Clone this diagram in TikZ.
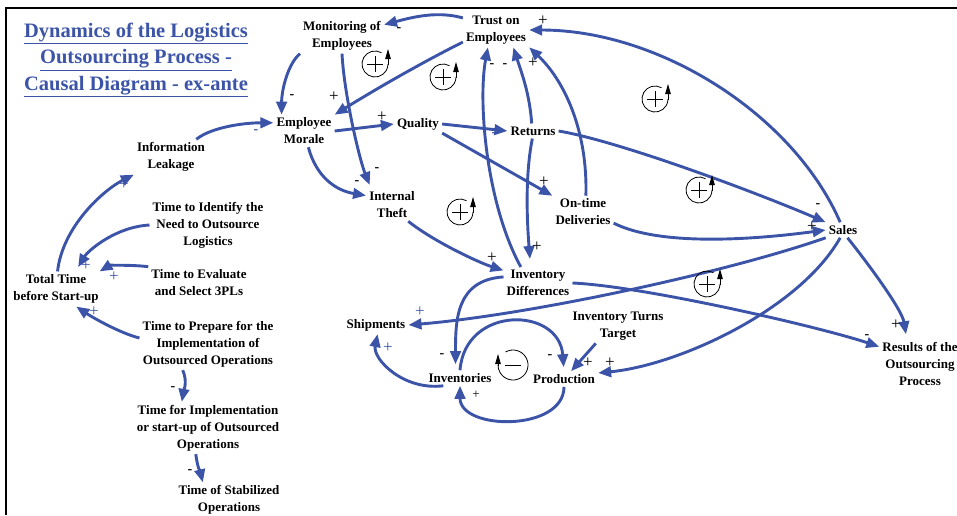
\documentclass[tikz,border=0pt]{standalone}
\usepackage{fontspec}
\setmainfont{Liberation Serif}
\usetikzlibrary{arrows.meta}
\definecolor{cldblue}{RGB}{60,84,168}
\tikzset{
  % node styles (variables, title)
  var/.style={font=\fontsize{13}{17}\selectfont\bfseries,align=center,inner sep=3pt},
  title/.style={font=\fontsize{20.5}{26.5}\selectfont\bfseries,text=cldblue,align=center,inner sep=0pt},
  % causal links
  % gebruik: \draw[link] (a.anchor) .. controls +(..) and +(..) .. (b.anchor);
  link/.style={draw=cldblue,line width=2.9pt,-{Triangle[length=13pt,width=10.5pt]}},
  % polarity signs
  plussign/.style={font=\fontsize{17}{17}\selectfont,inner sep=0pt},
  minsign/.style={font=\fontsize{14}{14}\selectfont\bfseries,inner sep=0pt},
  bplus/.style={plussign,text=cldblue},
  bmin/.style={minsign,text=cldblue},
  % loop markers (reinforcing / balancing)
  rloop/.pic={
    \draw[line width=0.8pt] (-8,0) -- (8,0) (0,-8) -- (0,8);
    \draw[line width=0.8pt] (-60:13) arc (-60:-360:13);
    \draw[line width=0.8pt,-{Triangle[length=10pt,width=5.5pt]}] (13,1) -- (13,-15);
  },
  bloop/.pic={
    \draw[line width=0.8pt] (-8,0) -- (8,0);
    \draw[line width=0.8pt] (-120:15) arc (-120:180:15);
    \draw[line width=0.8pt,-{Triangle[length=10pt,width=5.5pt]}] (-15,1) -- (-15,-11);
  },
}

\begin{document}
\begin{tikzpicture}[x=1pt,y=-1pt]
  \useasboundingbox (0,0) rectangle (957,515);
  \draw[line width=1.8pt] (6,515) -- (6,8) -- (957,8);

  \node[title] (ttl) at (136,60) {\underline{Dynamics of the Logistics}\\\underline{Outsourcing Process -}\\\underline{Causal Diagram - ex-ante}};

  % variables
  \node[var] (mon) at (342,36) {Monitoring of\\Employees};
  \node[var] (tt) at (496,30) {Trust on\\Employees};
  \node[var] (morale) at (304,131) {Employee\\Morale};
  \node[var] (quality) at (418,124) {Quality};
  \node[var] (returns) at (533,131) {Returns};
  \node[var] (leak) at (171,157) {Information\\Leakage};
  \node[var] (theft) at (392,205) {Internal\\Theft};
  \node[var] (ontime) at (583,212) {On-time\\Deliveries};
  \node[var] (sales) at (843,230) {Sales};
  \node[var] (invdiff) at (538,283) {Inventory\\Differences};
  \node[var] (ship) at (376,325) {Shipments};
  \node[var] (turns) at (618,326) {Inventory Turns\\Target};
  \node[var] (inv) at (460,378) {Inventories};
  \node[var] (prod) at (564,379) {Production};
  \node[var] (results) at (920,364) {Results of the\\Outsourcing\\Process};
  \node[var] (tid) at (208,225) {Time to Identify the\\Need to Outsource\\Logistics};
  \node[var] (total) at (56,289) {Total Time\\before Start-up};
  \node[var] (teval) at (199,283) {Time to Evaluate\\and Select 3PLs};
  \node[var] (tprep) at (208,344) {Time to Prepare for the\\Implementation of\\Outsourced Operations};
  \node[var] (timpl) at (208,428) {Time for Implementation\\or start-up of Outsourced\\Operations};
  \node[var] (tstab) at (229,500) {Time of Stabilized\\Operations};

  % links
  \draw[link] (tt.160) .. controls +(-25,-7) and +(30,-8) .. (mon.15);
  \draw[link] (mon.south west) .. controls +(-12,10) and +(0,-25) .. (morale.144);
  \draw[link,shorten >=4pt] (mon.south) .. controls +(2,40) and +(-12,-30) .. (theft.142);
  \draw[link] (tt.200) .. controls +(-40,20) and +(40,-25) .. (morale.north east);
  \draw[link] (morale.east) -- (quality.west);
  \draw[link] (morale.-75) .. controls +(8,30) and +(-30,-5) .. (theft.160);
  \draw[link] (quality.east) -- (returns.west);
  \draw[link] (quality.south east) -- (ontime.north west);
  \draw[link] (returns.east) .. controls +(60,10) and +(-70,-30) .. (sales.north west);
  \draw[link] (ontime.-20) .. controls +(50,25) and +(-60,8) .. (sales.west);
  \draw[link] (sales.110) .. controls +(-47,-108) and +(130,0) .. (tt.east);
  \draw[link] (ontime.80) .. controls +(2,-65) and +(35,33) .. (tt.south east);
  \draw[link] (returns.100) .. controls +(-2,-30) and +(8,25) .. (tt.-45);
  \draw[link,shorten >=8pt] (returns.-95) .. controls +(-8,40) and +(-3,-40) .. (invdiff.115);
  \draw[link] (invdiff.137) .. controls +(-35,-64) and +(-10,53) .. (tt.-115);
  \draw[link] (theft.-45) .. controls +(25,20) and +(-25,-8) .. (invdiff.160);
  \draw[link,shorten >=6pt] (invdiff.170) .. controls +(-48,3) and +(0,-49) .. (inv.120);
  \draw[link] (invdiff.east) .. controls +(70,3) and +(-60,-20) .. (results.157);
  \draw[link] (sales.south west) .. controls +(-100,35) and +(120,-10) .. (ship.east);
  \draw[link] (sales.-110) .. controls +(-40,71) and +(82,-8) .. (prod.10);
  \draw[link,shorten >=5pt] (sales.-60) .. controls +(20,25) and +(-5,-30) .. (results.118);
  \draw[link] (turns.-142) -- (prod.48);
  \draw[link,shorten >=4pt] (inv.north) .. controls +(5,-65) and +(-5,-65) .. (prod.north);
  \draw[link] (prod.south) .. controls +(0,45) and +(0,45) .. (inv.south);
  \draw[link] (inv.-155) .. controls +(-40,5) and +(-5,25) .. (ship.-80);
  \draw[link] (leak.35) .. controls +(15,-12) and +(-30,0) .. (morale.165);
  \draw[link] (total.85) .. controls +(5,-45) and +(-30,15) .. (leak.south west);
  \draw[link,shorten >=5pt] (tid.west) .. controls +(-35,2) and +(12,-20) .. (total.42);
  \draw[link] (teval.north west) .. controls +(-15,-2) and +(10,-6) .. (total.22);
  \draw[link] (tprep.175) .. controls +(-20,-5) and +(15,10) .. (total.-41);
  \draw[link] (tprep.-134) .. controls +(5,12) and +(2,-12) .. (timpl.135);
  \draw[link] (timpl.-115) .. controls +(2,15) and +(-3,-12) .. (tstab.146);

  % polarity signs
  \node[minsign] (s1) at (399,30) {-};
  \node[minsign] (s2) at (292,97) {-};
  \node[plussign] (s3) at (334,97) {+};
  \node[plussign] (s4) at (382,117) {+};
  \node[minsign] (s5) at (377,170) {-};
  \node[minsign] (s6) at (357,183) {-};
  \node[plussign] (s7) at (543,21) {+};
  \node[minsign] (s8) at (492,66) {-};
  \node[minsign] (s9) at (505,66) {-};
  \node[plussign] (s10) at (533,63) {+};
  \node[plussign] (s11) at (544,182) {+};
  \node[plussign] (s12) at (537,247) {+};
  \node[plussign] (s13) at (492,258) {+};
  \node[minsign] (s14) at (818,206) {-};
  \node[plussign] (s15) at (812,227) {+};
  \node[minsign] (s16) at (442,356) {-};
  \node[minsign] (s17) at (550,357) {-};
  \node[plussign] (s18) at (588,363) {+};
  \node[plussign] (s19) at (610,363) {+};
  \node[plussign,font=\fontsize{13}{13}\selectfont] (s20) at (476,395) {+};
  \node[plussign] (s21) at (896,325) {+};
  \node[minsign] (s22) at (867,337) {-};
  \node[minsign] (s23) at (173,389) {-};
  \node[minsign] (s24) at (190,472) {-};
  \node[bmin] (s25) at (256,132) {-};
  \node[bplus] (s26) at (124,185) {+};
  \node[bplus] (s27) at (86,266) {+};
  \node[bplus] (s28) at (114,277) {+};
  \node[bplus] (s29) at (94,312) {+};
  \node[bmin] (s30) at (494,135) {-};
  \node[bplus] (s31) at (420,312) {+};
  \node[bplus] (s32) at (388,348) {+};

  % loops
  \pic at (375,64) {rloop};
  \pic at (443,77) {rloop};
  \pic at (460,212) {rloop};
  \pic at (655,99) {rloop};
  \pic at (699,190) {rloop};
  \pic at (707,284) {rloop};
  \pic at (513,365) {bloop};
\end{tikzpicture}
\end{document}
